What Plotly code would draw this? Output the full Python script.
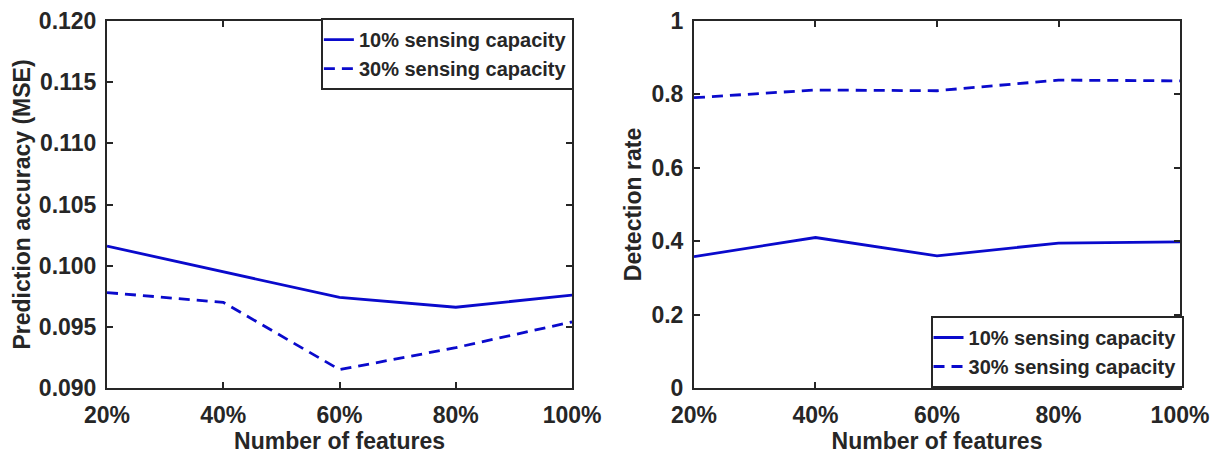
import plotly.graph_objects as go

features = [20, 40, 60, 80, 100]
feature_labels = ["20%", "40%", "60%", "80%", "100%"]

mse_10 = [0.1016, 0.0995, 0.0974, 0.0966, 0.0976]
mse_30 = [0.0978, 0.0970, 0.0915, 0.0933, 0.0954]

det_10 = [0.358, 0.410, 0.360, 0.395, 0.398]
det_30 = [0.791, 0.812, 0.810, 0.839, 0.837]

mse_ticks = [0.090, 0.095, 0.100, 0.105, 0.110, 0.115, 0.120]
det_ticks = [0, 0.2, 0.4, 0.6, 0.8, 1.0]
det_ticklabels = ["0", "0.2", "0.4", "0.6", "0.8", "1"]

series_names = ["10% sensing capacity", "30% sensing capacity"]

BLUE = "#0a0acc"
TXT = "#262626"
FONT = "Liberation Sans, Arial, sans-serif"
DASH = "11px,7px"

fig = go.Figure()
fig.add_trace(go.Scatter(x=features, y=mse_10, mode="lines", name="<b>%s</b>" % series_names[0],
                         line=dict(color=BLUE, width=2.8), xaxis="x", yaxis="y", legend="legend"))
fig.add_trace(go.Scatter(x=features, y=mse_30, mode="lines", name="<b>%s</b>" % series_names[1],
                         line=dict(color=BLUE, width=2.8, dash=DASH), xaxis="x", yaxis="y", legend="legend"))
fig.add_trace(go.Scatter(x=features, y=det_10, mode="lines", name="<b>%s</b>" % series_names[0],
                         line=dict(color=BLUE, width=2.8), xaxis="x2", yaxis="y2", legend="legend2"))
fig.add_trace(go.Scatter(x=features, y=det_30, mode="lines", name="<b>%s</b>" % series_names[1],
                         line=dict(color=BLUE, width=2.8, dash=DASH), xaxis="x2", yaxis="y2", legend="legend2"))

axis_common = dict(showline=True, linecolor=TXT, linewidth=2, mirror="ticks", ticks="inside",
                   ticklen=6, tickwidth=2, tickcolor=TXT, showgrid=False, zeroline=False,
                   automargin=False, tickfont=dict(family=FONT, size=23, color=TXT))

xt = [f"<b>{t}</b>" for t in feature_labels]
fig.update_layout(
    width=1212, height=454,
    margin=dict(l=0, r=0, t=0, b=0, autoexpand=False),
    paper_bgcolor="white", plot_bgcolor="white",
    font=dict(family=FONT, color=TXT),
    xaxis=dict(domain=[0.0883, 0.472], range=[20, 100], tickvals=features, ticktext=xt,
               anchor="y", ticklabelstandoff=5,
               title=dict(text="<b>Number of features</b>", font=dict(size=23, color=TXT), standoff=6),
               **axis_common),
    yaxis=dict(domain=[0.1454, 0.9537], range=[0.090, 0.120], tickvals=mse_ticks,
               ticktext=[f"<b>{v:.3f}</b>" for v in mse_ticks], anchor="x", ticklabelstandoff=4,
               title=dict(text="<b>Prediction accuracy (MSE)</b>", font=dict(size=23, color=TXT), standoff=2),
               **axis_common),
    xaxis2=dict(domain=[0.5726, 0.9736], range=[20, 100], tickvals=features, ticktext=xt,
                anchor="y2", ticklabelstandoff=5,
                title=dict(text="<b>Number of features</b>", font=dict(size=23, color=TXT), standoff=6),
                **axis_common),
    yaxis2=dict(domain=[0.1454, 0.9537], range=[0, 1], tickvals=det_ticks,
                ticktext=[f"<b>{t}</b>" for t in det_ticklabels], anchor="x2", ticklabelstandoff=4,
                title=dict(text="<b>Detection rate</b>", font=dict(size=23, color=TXT), standoff=3),
                **axis_common),
    legend=dict(x=0.4735, y=0.960, xanchor="right", yanchor="top", bgcolor="white",
                bordercolor=TXT, borderwidth=2, font=dict(family=FONT, size=20, color=TXT),
                tracegroupgap=0, itemwidth=30, indentation=-4),
    legend2=dict(x=0.9765, y=0.1454, xanchor="right", yanchor="bottom", bgcolor="white",
                 bordercolor=TXT, borderwidth=2, font=dict(family=FONT, size=20, color=TXT),
                 tracegroupgap=0, itemwidth=30, indentation=-4),
    showlegend=True,
)

fig.write_html("out.html")
